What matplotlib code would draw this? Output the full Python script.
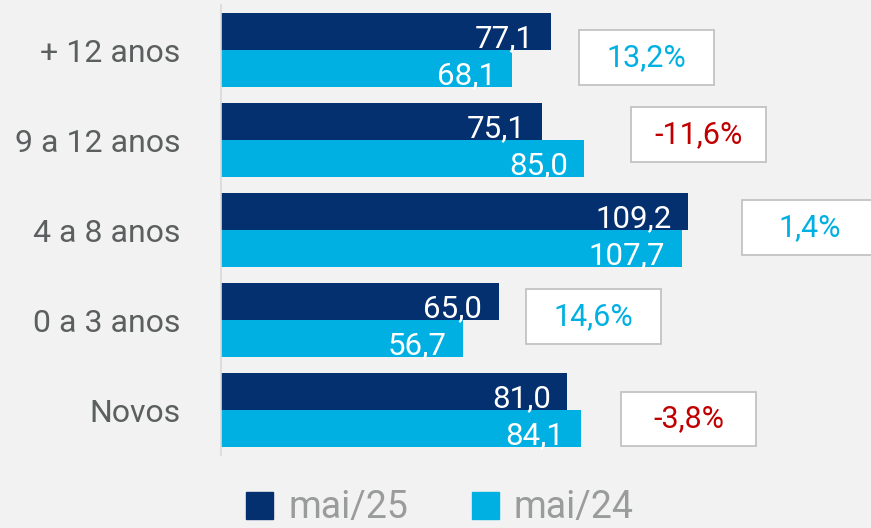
import matplotlib.pyplot as plt
from matplotlib.patches import Rectangle, Patch

plt.rcParams['font.family'] = ['Roboto', 'DejaVu Sans']

categories = ['+ 12 anos', '9 a 12 anos', '4 a 8 anos', '0 a 3 anos', 'Novos']
mai25 = [77.1, 75.1, 109.2, 65.0, 81.0]
mai24 = [68.1, 85.0, 107.7, 56.7, 84.1]
variacao = [13.2, -11.6, 1.4, 14.6, -3.8]
series_names = ['mai/25', 'mai/24']

# box centres (layout only, data units)
box_x = [99.5, 111.7, 137.6, 87.1, 109.3]
box_y = [0.08, 0.94, 1.97, 2.96, 4.10]

navy = '#04306f'
cyan = '#00b0e2'
red = '#c00000'
bg = '#f2f2f2'


def fmt(v, dec=1):
    return f'{v:.{dec}f}'.replace('.', ',')


fig = plt.figure(figsize=(8.71, 5.28), dpi=100, facecolor=bg)
ax = fig.add_axes([221 / 871, 73 / 528, 650 / 871, 450 / 528])
ax.set_facecolor(bg)

h = 0.411
ys = list(range(len(categories)))
b1 = ax.barh([y - h / 2 for y in ys], mai25, height=h, color=navy)
b2 = ax.barh([y + h / 2 for y in ys], mai24, height=h, color=cyan)

for bars, vals in [(b1, mai25), (b2, mai24)]:
    for bar, v in zip(bars, vals):
        ax.annotate(fmt(v), (bar.get_width(), bar.get_y() + bar.get_height() / 2),
                    xytext=(-12, -5), textcoords='offset points',
                    ha='right', va='center', color='white', fontsize=22.5)

bw, bh = 31.6, 0.61
for x, y, v in zip(box_x, box_y, variacao):
    ax.add_patch(Rectangle((x - bw / 2, y - bh / 2), bw, bh, facecolor='white',
                           edgecolor='#c3c3c3', lw=1.3, clip_on=False, zorder=3))
    ax.text(x, y, fmt(v) + '%', ha='center', va='center', fontsize=22,
            color=cyan if v >= 0 else red, zorder=4)

ax.set_xlim(0, 152)
ax.set_ylim(4.5, -0.5)
ax.set_xticks([])
ax.set_yticks(ys)
ax.set_yticklabels(categories, fontsize=23, color='#5c5f5f')
ax.tick_params(axis='y', length=0, pad=29)
for s in ['top', 'right', 'bottom']:
    ax.spines[s].set_visible(False)
ax.spines['left'].set_color('#d9d9d9')
ax.spines['left'].set_linewidth(1.2)

handles = [Patch(color=navy), Patch(color=cyan)]
fig.legend(handles, series_names, loc='center', bbox_to_anchor=(440 / 871, 1 - 508 / 528),
           ncol=2, frameon=False, fontsize=27, labelcolor='#9a9c9c',
           handlelength=0.72, handleheight=0.72, handletextpad=0.4,
           columnspacing=1.7, borderpad=0)

fig.savefig('out.png', dpi=100, facecolor=bg)
